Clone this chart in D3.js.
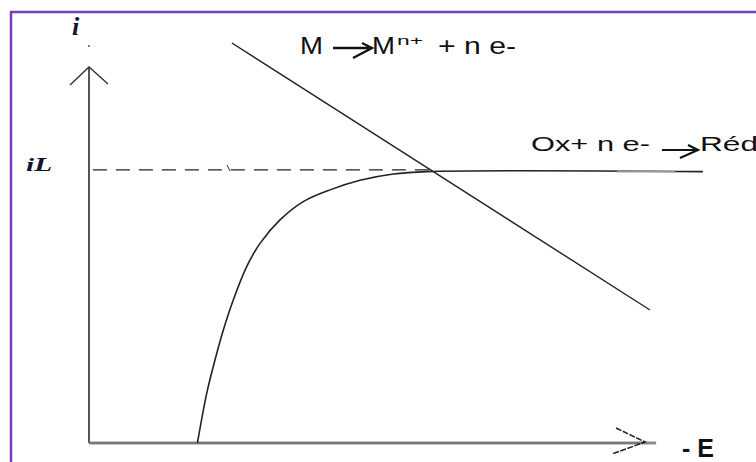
<!DOCTYPE html>
<html>
<head>
<meta charset="utf-8">
<script src="https://cdn.jsdelivr.net/npm/d3@7"></script>
<style>
  html, body { margin: 0; padding: 0; background: #fff; }
  svg { display: block; }
</style>
</head>
<body>
<svg id="chart" width="756" height="462"></svg>
<script>
// Polarisation curves: current i versus potential (-E)
// Reduction wave Ox + n e- -> Réd, rising to the limiting current iL
const reductionE = [1.95, 2.117, 2.266, 2.416, 2.595, 2.836, 3.076, 3.435, 3.854, 4.335, 4.874, 5.473, 6.074, 11.04];
const reductionI = [0, 0.182, 0.304, 0.414, 0.524, 0.646, 0.731, 0.817, 0.884, 0.927, 0.962, 0.985, 0.994, 0.994];
// Oxidation of the metal M -> M^n+ + n e- (straight line)
const oxidationE = [2.57, 10.09];
const oxidationI = [1.465, 0.487];
// Limiting current level
const limitI = 1;
const limitE = [0.07, 6.17];

const svg = d3.select("#chart");

const x = d3.scaleLinear().domain([0, 10]).range([89, 645]);
const y = d3.scaleLinear().domain([0, 1.377]).range([443, 67]);

// Frame
svg.append("rect")
  .attr("x", 11).attr("y", 12)
  .attr("width", 780).attr("height", 500)
  .attr("fill", "none")
  .attr("stroke", "#7a3db8")
  .attr("stroke-width", 2.5);

// Axes
const axisG = svg.append("g");
axisG.append("line")
  .attr("x1", x(0)).attr("y1", y(0)).attr("x2", x(0)).attr("y2", y(1.377))
  .attr("stroke", "#555").attr("stroke-width", 2);
axisG.append("line")
  .attr("x1", x(0)).attr("y1", y(0)).attr("x2", x(10.2)).attr("y2", y(0))
  .attr("stroke", "#8a8a8a").attr("stroke-width", 3);
axisG.append("line")
  .attr("x1", x(0)).attr("y1", y(0)).attr("x2", x(10)).attr("y2", y(0))
  .attr("stroke", "#666").attr("stroke-width", 1);
// open arrow heads
axisG.append("path")
  .attr("d", `M${x(0) - 19},${y(1.377) + 18} L${x(0)},${y(1.377)} L${x(0) + 19},${y(1.377) + 17}`)
  .attr("fill", "none").attr("stroke", "#333").attr("stroke-width", 1.4);
axisG.append("path")
  .attr("d", `M${x(10) - 29},${y(0) - 15} L${x(10)},${y(0) - 1} L${x(10) - 33},${y(0) + 11}`)
  .attr("fill", "none").attr("stroke", "#222").attr("stroke-width", 1.5)
  .attr("stroke-dasharray", "6,1.5");
axisG.append("circle").attr("cx", x(0)).attr("cy", 46).attr("r", 0.9).attr("fill", "#444");

// Limiting current dashed level
svg.append("line")
  .attr("x1", x(limitE[0])).attr("y1", y(limitI))
  .attr("x2", x(limitE[1])).attr("y2", y(limitI))
  .attr("stroke", "#222").attr("stroke-width", 1.3)
  .attr("stroke-dasharray", "14,9");
svg.append("line")
  .attr("x1", 227).attr("y1", 165).attr("x2", 230).attr("y2", 171)
  .attr("stroke", "#333").attr("stroke-width", 1);

// Reduction wave
const red = reductionE.map((e, k) => [e, reductionI[k]]);
svg.append("path")
  .datum(red)
  .attr("d", d3.line().x(d => x(d[0])).y(d => y(d[1])).curve(d3.curveCatmullRom.alpha(0.5)))
  .attr("fill", "none").attr("stroke", "#222").attr("stroke-width", 1.6);
// greyish segment on the plateau
svg.append("line")
  .attr("x1", 617).attr("y1", y(0.994)).attr("x2", 675).attr("y2", y(0.994))
  .attr("stroke", "#999").attr("stroke-width", 2);

// Metal oxidation line
const ox = oxidationE.map((e, k) => [e, oxidationI[k]]);
svg.append("path")
  .datum(ox)
  .attr("d", d3.line().x(d => x(d[0])).y(d => y(d[1])))
  .attr("fill", "none").attr("stroke", "#222").attr("stroke-width", 1.4);

// Axis labels
const serif = "Liberation Serif, serif";
svg.append("text")
  .attr("x", 72).attr("y", 35)
  .attr("font-family", serif)
  .attr("font-style", "italic").attr("font-weight", "bold")
  .attr("font-size", 26).attr("fill", "#14142e")
  .text("i");
svg.append("text")
  .attr("x", 26).attr("y", 171)
  .attr("font-family", serif)
  .attr("font-style", "italic").attr("font-weight", "bold")
  .attr("font-size", 19).attr("fill", "#14142e")
  .attr("textLength", 26).attr("lengthAdjust", "spacingAndGlyphs")
  .text("iL");
const sans = "Liberation Sans, Arial, sans-serif";
svg.append("text")
  .attr("x", 682).attr("y", 457)
  .attr("font-family", sans)
  .attr("font-weight", "bold")
  .attr("font-size", 25).attr("fill", "#111")
  .text("- E");

// Reaction annotations
function word(str, x0, yb, size, len) {
  return svg.append("text").attr("x", x0).attr("y", yb)
    .attr("font-family", sans).attr("font-size", size).attr("fill", "#111")
    .attr("textLength", len).attr("lengthAdjust", "spacingAndGlyphs")
    .text(str);
}
word("M", 300, 54, 23, 23);
word("M", 372, 54, 23, 23);
word("n+", 397, 45, 13, 26);
word("+ n e-", 438, 54, 23, 78);
svg.append("path")
  .attr("d", "M333,48 L372,48 M362,43 L372,48 L353,58")
  .attr("fill", "none").attr("stroke", "#111").attr("stroke-width", 2.3);

word("Ox+ n e-", 531, 151, 21, 119);
svg.append("path")
  .attr("d", "M662,150 L698,150 M688,145 L698,150 L680,158")
  .attr("fill", "none").attr("stroke", "#111").attr("stroke-width", 2.2);
word("Réd", 700, 151, 21, 58);
</script>
</body>
</html>
